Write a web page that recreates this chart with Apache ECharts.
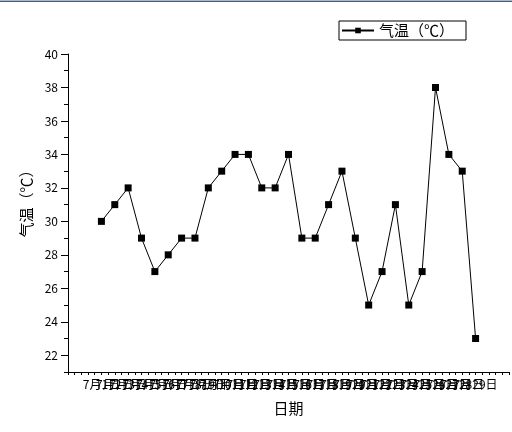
<!DOCTYPE html>
<html>
<head>
<meta charset="utf-8">
<script src="https://cdn.jsdelivr.net/npm/echarts@6/dist/echarts.min.js"></script>
<style>html,body{margin:0;padding:0;background:#fff}#c{width:512px;height:432px}</style>
</head>
<body>
<div id="c"></div>
<script>
var days = [1,2,3,4,5,6,7,8,9,10,11,12,13,14,15,16,17,18,19,20,21,22,23,24,25,26,27,28,29];
var dateLabels = days.map(function(d){ return '7月' + d + '日'; });
var temps = [30,31,32,29,27,28,29,29,32,33,34,34,32,32,34,29,29,31,33,29,25,27,31,25,27,38,34,33,23];
var yMajor = [22,24,26,28,30,32,34,36,38,40];
var yMinor = [21,23,25,27,29,31,33,35,37,39];
var seriesName = '气温（℃）';

var font = '"Noto Sans CJK SC", "DejaVu Sans", sans-serif';
var chart = echarts.init(document.getElementById('c'));
chart.setOption({
  animation: false,
  backgroundColor: '#fff',
  textStyle: { fontFamily: font },
  graphic: [
    { type: 'rect', shape: { x: 0, y: 0, width: 512, height: 1 }, style: { fill: '#aab9d2' } },
    { type: 'rect', shape: { x: 0, y: 1, width: 512, height: 1 }, style: { fill: '#5a5a5a' } }
  ],
  legend: {
    left: 339, top: 21,
    padding: [2, 12, 2, 2],
    borderColor: '#000', borderWidth: 1, borderRadius: 0,
    itemWidth: 32, itemHeight: 7, itemGap: 8,
    textStyle: { color: '#000', fontSize: 15, fontFamily: font },
    data: [{ name: seriesName }]
  },
  grid: { left: 68, top: 54, right: 2, bottom: 60, containLabel: false },
  xAxis: {
    type: 'value', min: -1.5, max: 31.5, interval: 0.5,
    name: '日期', nameLocation: 'middle', nameGap: 29,
    nameTextStyle: { color: '#000', fontSize: 15, fontFamily: font },
    axisLine: { show: true, onZero: false, lineStyle: { color: '#000', width: 1 } },
    axisTick: { show: true, inside: false, length: 3, lineStyle: { color: '#000' } },
    axisLabel: {
      color: '#000', fontSize: 12, margin: 6, hideOverlap: false,
      showMinLabel: true, showMaxLabel: true,
      formatter: function (v) {
        var i = days.indexOf(v);
        return i >= 0 ? dateLabels[i] : '';
      }
    },
    splitLine: { show: false }
  },
  yAxis: [{
    type: 'value', min: 21, max: 40,
    name: seriesName, nameLocation: 'middle', nameGap: 26,
    nameTextStyle: { color: '#000', fontSize: 15, fontFamily: font, padding: [0, 0, 0, 26] },
    axisLine: { show: true, onZero: false, lineStyle: { color: '#000', width: 1 } },
    axisTick: { show: true, length: 7, customValues: yMajor, lineStyle: { color: '#000' } },
    axisLabel: { color: '#000', fontSize: 12, margin: 10, customValues: yMajor },
    splitLine: { show: false }
  }, {
    type: 'value', min: 21, max: 40, position: 'left', offset: 0,
    axisLine: { show: false, onZero: false },
    axisTick: { show: true, length: 4, customValues: yMinor, lineStyle: { color: '#000' } },
    axisLabel: { show: false },
    splitLine: { show: false }
  }],
  series: [{
    name: seriesName,
    type: 'line',
    yAxisIndex: 0,
    data: days.map(function (d, i) { return [d, temps[i]]; }),
    symbol: 'rect', symbolSize: 7,
    itemStyle: { color: '#000' },
    lineStyle: { color: '#000', width: 1 }
  }]
});
</script>
</body>
</html>
